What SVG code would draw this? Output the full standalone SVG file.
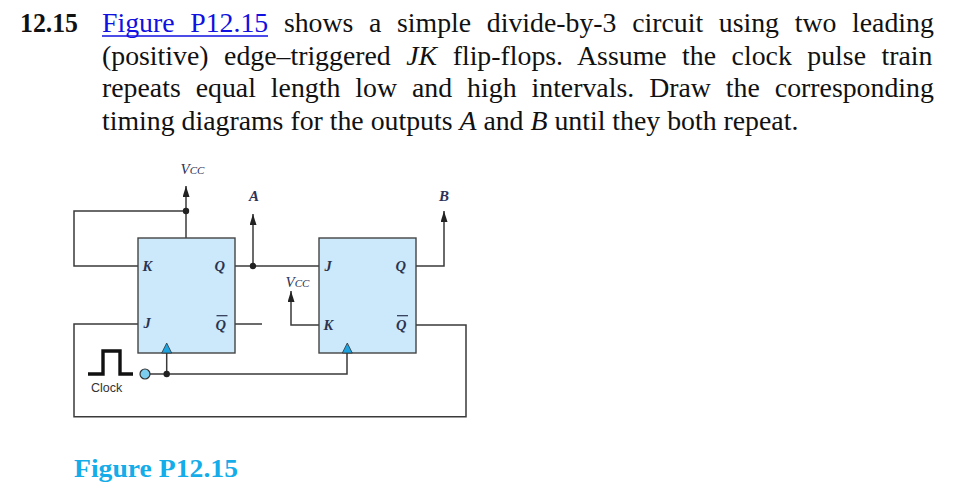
<svg xmlns="http://www.w3.org/2000/svg" width="970" height="489" viewBox="0 0 970 489">
<defs>
<style>
.t{font-family:"Liberation Serif","Times New Roman",serif;font-size:27.8px;fill:#111}
.w{stroke:#3a3a3a;stroke-width:1.5;fill:none}
.box{fill:#cbe9fa;stroke:#444;stroke-width:1.4}
.pin{font-family:"Liberation Serif","Times New Roman",serif;font-style:italic;font-weight:bold;font-size:14.5px;fill:#2b3350}
.lab{font-family:"Liberation Serif","Times New Roman",serif;font-style:italic;font-size:15px;fill:#2c3257}
.dot{fill:#222}
.tri{fill:#1ca3e0;stroke:#333;stroke-width:0.8}
</style>
<marker id="ah" viewBox="0 0 11 7" refX="11" refY="3.5" markerWidth="11" markerHeight="7" markerUnits="userSpaceOnUse" orient="auto">
<path d="M0,0 L11,3.5 L0,7 Z" fill="#222"/>
</marker>
</defs>
<rect width="970" height="489" fill="#fff"/>
<g id="problem-text">
<text class="t" x="20" y="32" font-weight="bold" textLength="58" lengthAdjust="spacingAndGlyphs">12.15</text>
<text class="t" x="102" y="32" word-spacing="8.7"><tspan fill="#1010e0">Figure P12.15</tspan> shows a simple divide-by-3 circuit using two leading</text>
<line x1="102" y1="36" x2="268" y2="36" stroke="#1010e0" stroke-width="1.4"/>
<text class="t" x="102" y="64.5" word-spacing="8.56">(positive) edge–triggered <tspan font-style="italic">JK</tspan> flip-flops. Assume the clock pulse train</text>
<text class="t" x="102" y="97" word-spacing="8.03">repeats equal length low and high intervals. Draw the corresponding</text>
<text class="t" x="102" y="129.5">timing diagrams for the outputs <tspan font-style="italic">A</tspan> and <tspan font-style="italic">B</tspan> until they both repeat.</text>
</g>
<g id="connectors">
<path class="w" d="M186,238 V186" marker-end="url(#ah)"/>
<path class="w" d="M186,211 H74 V266 H138"/>
<path class="w" d="M235,266 H319"/>
<path class="w" d="M253,266 V214" marker-end="url(#ah)"/>
<path class="w" d="M235,324 H262"/>
<path class="w" d="M319,325 H291 V291" marker-end="url(#ah)"/>
<path class="w" d="M138,324 H74 V416.7 H466 V325 H416"/>
<path class="w" d="M416,266 H444 V211" marker-end="url(#ah)"/>
<path class="w" d="M150,374 H347 V353"/>
<path class="w" d="M166.7,374 V353"/>
<circle class="dot" cx="186" cy="211" r="3.2"/>
<circle class="dot" cx="253" cy="266" r="3.2"/>
<circle class="dot" cx="166.7" cy="374" r="3.2"/>
</g>
<g id="ff1">
<rect class="box" x="138" y="238" width="97" height="115"/>
<text class="pin" x="142.5" y="271">K</text>
<text class="pin" x="214.5" y="271">Q</text>
<text class="pin" x="143.5" y="328">J</text>
<text class="pin" x="215.5" y="329.5">Q</text>
<line x1="216.5" y1="315.7" x2="227.5" y2="315.7" stroke="#2b3350" stroke-width="1.2"/>
<path class="tri" d="M161.7,353 L166.7,343 L171.7,353 Z"/>
</g>
<g id="ff2">
<rect class="box" x="319" y="238" width="97" height="115"/>
<text class="pin" x="324.5" y="271">J</text>
<text class="pin" x="395.5" y="271">Q</text>
<text class="pin" x="323.5" y="329.5">K</text>
<text class="pin" x="396" y="329.5">Q</text>
<line x1="397" y1="315.7" x2="408" y2="315.7" stroke="#2b3350" stroke-width="1.2"/>
<path class="tri" d="M342.3,353 L347.3,343 L352.3,353 Z"/>
</g>
<g id="clock">
<polyline points="88,374 103,374 103,351 120,351 120,374 133,374" fill="none" stroke="#111" stroke-width="3.4"/>
<circle cx="145" cy="374" r="5" fill="#7dcdef" stroke="#333" stroke-width="1.2"/>
<text x="91" y="392" font-family="'Liberation Sans',Arial,sans-serif" font-size="12.5" fill="#333">Clock</text>
</g>
<g id="labels">
<text class="lab" x="180.5" y="174">V<tspan font-size="11">CC</tspan></text>
<text class="lab" x="249" y="201" font-weight="bold" font-size="13.5">A</text>
<text class="lab" x="285.5" y="287">V<tspan font-size="11">CC</tspan></text>
<text class="lab" x="439" y="201" font-weight="bold" font-size="13.5">B</text>
</g>
<text x="74" y="477" font-family="'Liberation Serif','Times New Roman',serif" font-weight="bold" font-size="25.5" fill="#14ace9" textLength="164" lengthAdjust="spacingAndGlyphs">Figure P12.15</text>
</svg>
